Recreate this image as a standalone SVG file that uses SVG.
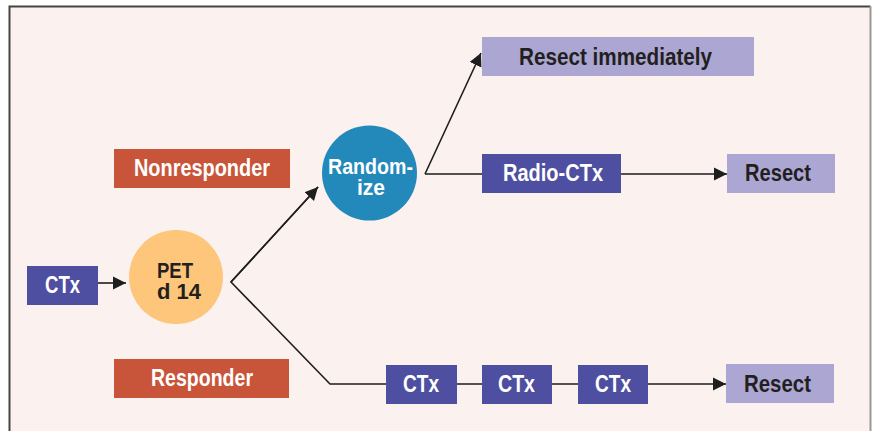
<svg xmlns="http://www.w3.org/2000/svg" width="872" height="431" viewBox="0 0 872 431">
<defs>
<marker id="ah" markerWidth="14" markerHeight="14" refX="13" refY="6.5" orient="auto" markerUnits="userSpaceOnUse" viewBox="0 0 14 13">
<path d="M0,0 L13,6.5 L0,13 z" fill="#1e1e1e"/>
</marker>
<style>
.bg{fill:#fbf2ef}
.dk{fill:#4f4fa1}
.lt{fill:#aba6d2}
.rd{fill:#c8553a}
.t{font-family:"Liberation Sans",Arial,sans-serif;font-weight:bold;font-size:23px}
.s{font-size:22px}
.w{fill:#ffffff}
.b{fill:#231f20}
.c{stroke:#1e1e1e;stroke-width:1.6;fill:none}
</style>
</defs>
<rect x="0" y="0" width="872" height="431" fill="#ffffff"/>
<rect class="bg" x="9.5" y="6.5" width="861" height="430"/>
<path d="M9.5,431 V6.5 H870.5" fill="none" stroke="#444" stroke-width="2"/>
<path d="M870.5,6.5 V431" stroke="#999" stroke-width="2"/>

<g id="connectors">
<path class="c" d="M98,283 H126" marker-end="url(#ah)"/>
<path class="c" d="M318,187 L231,282 L330,384 H386"/>
<path class="c" d="M457,384 H482 M552,384 H578 M648,384 H726" marker-end="url(#ah)"/>
<path class="c" d="M425,174 L481,53" marker-end="url(#ah)"/>
<path class="c" d="M231,282 L318,187" marker-end="url(#ah)"/>
<path class="c" d="M425,174 H482 M621,174 H727" marker-end="url(#ah)"/>
</g>

<g id="ctx0"><rect class="dk" x="27" y="266" width="71" height="39"/><text class="t w" x="45" y="292.5" textLength="35" lengthAdjust="spacingAndGlyphs">CTx</text></g>
<g id="pet"><circle cx="176" cy="277" r="47" fill="#fdc67a"/><text class="t s b" x="157" y="277.5" textLength="36" lengthAdjust="spacingAndGlyphs">PET</text><text class="t s b" x="157" y="298.5" textLength="44" lengthAdjust="spacingAndGlyphs">d 14</text></g>
<g id="nonresponder"><rect class="rd" x="114" y="149" width="176" height="39"/><text class="t w" x="134" y="176" textLength="136" lengthAdjust="spacingAndGlyphs">Nonresponder</text></g>
<g id="responder"><rect class="rd" x="114" y="359" width="175" height="39"/><text class="t w" x="151" y="385.5" textLength="102" lengthAdjust="spacingAndGlyphs">Responder</text></g>
<g id="randomize"><circle cx="369.5" cy="173" r="47.5" fill="#2389ba"/><text class="t s w" x="328" y="173.5" textLength="85" lengthAdjust="spacingAndGlyphs">Random-</text><text class="t s w" x="357" y="195" textLength="28" lengthAdjust="spacingAndGlyphs">ize</text></g>
<g id="resect-immediately"><rect class="lt" x="482" y="37" width="272" height="39"/><text class="t b" x="519" y="64.5" textLength="193" lengthAdjust="spacingAndGlyphs">Resect immediately</text></g>
<g id="radio-ctx"><rect class="dk" x="482" y="154" width="139" height="39"/><text class="t w" x="503" y="181" textLength="100" lengthAdjust="spacingAndGlyphs">Radio-CTx</text></g>
<g id="resect1"><rect class="lt" x="727" y="154" width="108" height="39"/><text class="t b" x="745" y="181" textLength="66" lengthAdjust="spacingAndGlyphs">Resect</text></g>
<g id="ctx1"><rect class="dk" x="386" y="365" width="71" height="39"/><text class="t w" x="403" y="392" textLength="36" lengthAdjust="spacingAndGlyphs">CTx</text></g>
<g id="ctx2"><rect class="dk" x="482" y="365" width="70" height="39"/><text class="t w" x="498" y="392" textLength="37" lengthAdjust="spacingAndGlyphs">CTx</text></g>
<g id="ctx3"><rect class="dk" x="578" y="365" width="70" height="39"/><text class="t w" x="595" y="392" textLength="36" lengthAdjust="spacingAndGlyphs">CTx</text></g>
<g id="resect2"><rect class="lt" x="726" y="364" width="108" height="39"/><text class="t b" x="744" y="391.5" textLength="67" lengthAdjust="spacingAndGlyphs">Resect</text></g>
</svg>
